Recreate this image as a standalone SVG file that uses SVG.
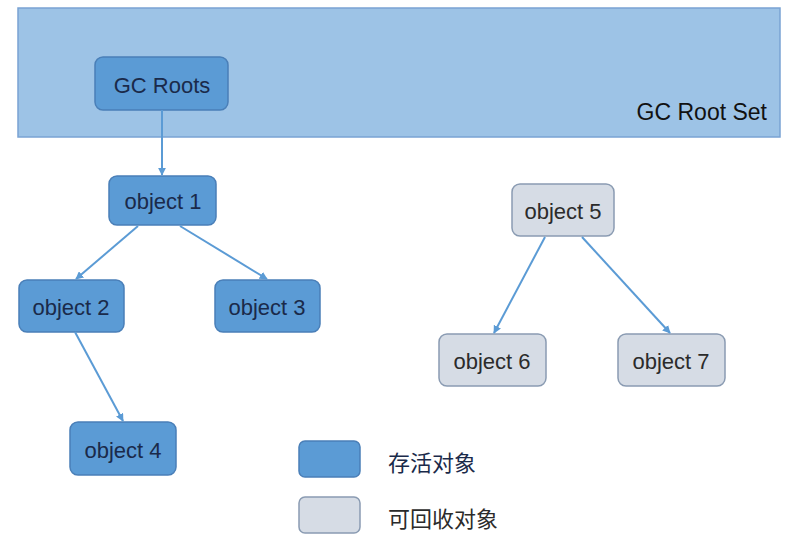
<svg xmlns="http://www.w3.org/2000/svg" width="790" height="545" viewBox="0 0 790 545">
<defs>
<style>
.live rect{fill:#5b9bd5;stroke:#4a7fb8;stroke-width:1.5}
.dead rect{fill:#d6dce5;stroke:#8a9bb2;stroke-width:1.5}
text{font-family:"Liberation Sans",Arial,sans-serif;font-size:22px;text-anchor:middle;dominant-baseline:central}
.live text{fill:#1a2a4a}
.dead text{fill:#2b2b2b}
.cjk{font-family:"Noto Sans CJK SC",sans-serif;font-size:22px;text-anchor:start;fill:#333}
.conn line{stroke:#5b9bd5;stroke-width:2;marker-end:url(#ah)}
</style>
<marker id="ah" viewBox="0 0 10 10" refX="9" refY="5" markerWidth="4" markerHeight="4" orient="auto">
<path d="M0,0 L10,5 L0,10 z" fill="#5b9bd5"/>
</marker>
</defs>
<rect width="790" height="545" fill="#ffffff"/>
<g id="rootset">
<rect x="18" y="8" width="762" height="129" fill="#9dc3e6" stroke="#7aa3d3" stroke-width="1.5"/>
<text x="767" y="112" style="text-anchor:end;fill:#111;font-size:23px">GC Root Set</text>
</g>
<g id="gcroots" class="live"><rect x="95" y="57" width="133" height="53" rx="8"/><text x="162" y="85">GC Roots</text></g>
<g id="obj1" class="live"><rect x="109" y="176" width="107" height="49" rx="8"/><text x="163" y="201">object 1</text></g>
<g id="obj2" class="live"><rect x="19" y="280" width="105" height="52" rx="8"/><text x="71" y="307">object 2</text></g>
<g id="obj3" class="live"><rect x="215" y="280" width="105" height="52" rx="8"/><text x="267" y="307">object 3</text></g>
<g id="obj4" class="live"><rect x="70" y="422" width="106" height="53" rx="8"/><text x="123" y="450">object 4</text></g>
<g id="obj5" class="dead"><rect x="512" y="184" width="102" height="52" rx="8"/><text x="563" y="211">object 5</text></g>
<g id="obj6" class="dead"><rect x="439" y="334" width="107" height="52" rx="8"/><text x="492" y="361">object 6</text></g>
<g id="obj7" class="dead"><rect x="618" y="334" width="107" height="52" rx="8"/><text x="671" y="361">object 7</text></g>
<g id="legend-live" class="live"><rect x="299" y="441" width="61" height="36" rx="6"/><text class="cjk" x="388" y="461">存活对象</text></g>
<g id="legend-dead" class="dead"><rect x="299" y="497" width="61" height="36" rx="6"/><text class="cjk" x="388" y="517">可回收对象</text></g>
<g id="connectors" class="conn">
<line x1="162" y1="110" x2="162" y2="175"/>
<line x1="138" y1="226" x2="76" y2="279"/>
<line x1="180" y1="226" x2="267" y2="279"/>
<line x1="75" y1="332" x2="123" y2="421"/>
<line x1="545" y1="237" x2="494" y2="333"/>
<line x1="582" y1="237" x2="670" y2="333"/>
</g>
</svg>
